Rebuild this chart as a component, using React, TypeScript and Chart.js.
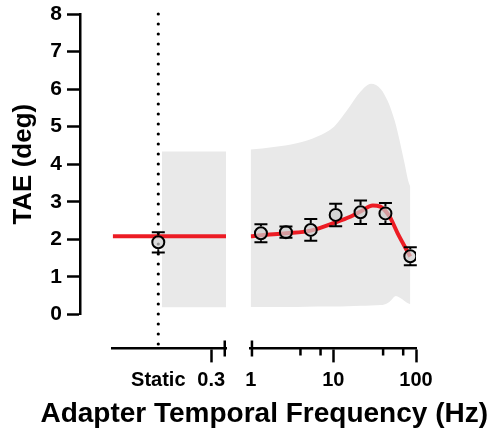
import { useEffect, useRef } from 'react';
import { Chart, registerables } from 'chart.js';

Chart.register(...registerables);

// ---------- data ----------
const Y_MIN = 0;
const Y_MAX = 8;
const Y_STEP = 1;

// left (static) segment
const STATIC_POS = 0.07; // position of the "Static" condition on the left segment
const XL_MIN = 0.02;
const XL_MAX = 0.45;
const XL_TICKS = [STATIC_POS, 0.3];
const STATIC_MEAN = 1.92;
const STATIC_ERR = 0.27;
const STATIC_FIT_X = [0.02, 0.45];
const STATIC_FIT_Y = [2.08, 2.08];
const STATIC_BAND_X = [0.0775, 0.45];
const STATIC_BAND_UPPER = [4.34, 4.34];
const STATIC_BAND_LOWER = [0.19, 0.19];

// right (temporal frequency) segment
const XR_MIN = 1;
const XR_MAX = 100;
const XR_TICKS = [1, 10, 100];
const XR_MINOR_TICKS = [4, 7, 40, 70];
const TF_FREQS = [1.33, 2.67, 5.33, 10.67, 21.33, 42.67, 85.33];
const TAE_MEAN = [2.16, 2.19, 2.25, 2.65, 2.72, 2.69, 1.55];
const TAE_ERR = [0.24, 0.15, 0.29, 0.3, 0.31, 0.28, 0.24];

const FIT_FREQS = [1, 1.33, 2.67, 5.33, 10.67, 16, 21.33, 30, 37, 48, 60, 85.33];
const FIT_VALUES = [2.08, 2.11, 2.16, 2.23, 2.45, 2.6, 2.74, 2.9, 2.87, 2.6, 2.16, 1.54];

const BAND_FREQS = [1, 1.9, 3.6, 6.4, 10.2, 14.8, 21.5, 28.5, 37.8, 45, 50, 57, 63, 72.6, 80, 85.33];
const BAND_UPPER = [4.39, 4.46, 4.56, 4.74, 5.0, 5.45, 5.94, 6.14, 5.99, 5.7, 5.45, 5.05, 4.65, 4.03, 3.58, 3.4];
const BAND_LOWER = [0.2, 0.2, 0.2, 0.21, 0.21, 0.22, 0.23, 0.24, 0.25, 0.3, 0.38, 0.49, 0.45, 0.36, 0.3, 0.27];

// ---------- layout / style ----------
const FONT = 'Liberation Sans, Arial, Helvetica, sans-serif';
const XL_PIXELS = [112.7, 226];
const XR_PIXELS = [250.7, 416];
const X_AXIS_GAP = 34;
const X_AXIS_BAND = 83;
const AXIS_W = 2.5;
const RED = 'rgb(236,28,36)';
const BAND = 'rgb(233,233,233)';
const POINT_R = 6;
const POINT_BW = 2;
const CAP_HALF = 6.5;

const xy = (xs: number[], ys: number[]) => xs.map((x, i) => ({ x, y: ys[i] }));

const brokenAxisPlugin = {
  id: 'brokenAxis',
  afterLayout(chart: any) {
    const { xl, xr } = chart.scales;
    const top = chart.chartArea.bottom + X_AXIS_GAP;
    const bottom = xr.bottom;
    const pairs: [any, number[]][] = [
      [xl, XL_PIXELS],
      [xr, XR_PIXELS],
    ];
    pairs.forEach(([s, px]) => {
      s.left = px[0];
      s.right = px[1];
      s.width = px[1] - px[0];
      s.top = top;
      s.bottom = bottom;
      s.height = bottom - top;
      s.configure();
    });
  },
  beforeDatasetsDraw(chart: any) {
    const { xl, y } = chart.scales;
    const ctx = chart.ctx;
    const x = xl.getPixelForValue(STATIC_POS);
    ctx.save();
    ctx.strokeStyle = '#000';
    ctx.lineWidth = 3.2;
    ctx.lineCap = 'round';
    ctx.setLineDash([0, 10]);
    ctx.beginPath();
    ctx.moveTo(x, y.getPixelForValue(Y_MAX));
    ctx.lineTo(x, xl.top);
    ctx.stroke();
    ctx.restore();
  },
  afterDatasetsDraw(chart: any) {
    const { xl, xr, y } = chart.scales;
    const ctx = chart.ctx;
    const rOuter = POINT_R + POINT_BW / 2;
    const drawErr = (px: number, mean: number, err: number) => {
      const cy = y.getPixelForValue(mean);
      const yt = y.getPixelForValue(mean + err);
      const yb = y.getPixelForValue(mean - err);
      ctx.beginPath();
      if (cy - yt > rOuter) {
        ctx.moveTo(px, cy - rOuter);
        ctx.lineTo(px, yt);
      }
      if (yb - cy > rOuter) {
        ctx.moveTo(px, cy + rOuter);
        ctx.lineTo(px, yb);
      }
      ctx.moveTo(px - CAP_HALF, yt);
      ctx.lineTo(px + CAP_HALF, yt);
      ctx.moveTo(px - CAP_HALF, yb);
      ctx.lineTo(px + CAP_HALF, yb);
      ctx.stroke();
    };
    ctx.save();
    ctx.strokeStyle = '#000';
    ctx.lineWidth = 2;
    drawErr(xl.getPixelForValue(STATIC_POS), STATIC_MEAN, STATIC_ERR);
    TF_FREQS.forEach((f, i) => drawErr(xr.getPixelForValue(f), TAE_MEAN[i], TAE_ERR[i]));
    ctx.restore();
  },
  afterDraw(chart: any) {
    const { xl, xr } = chart.scales;
    const ctx = chart.ctx;
    ctx.save();
    ctx.strokeStyle = '#000';
    ctx.lineWidth = AXIS_W;
    ctx.lineCap = 'butt';
    ctx.beginPath();
    // break caps
    ctx.moveTo(xl.right - AXIS_W / 2, xl.top - 8);
    ctx.lineTo(xl.right - AXIS_W / 2, xl.top + 8);
    ctx.moveTo(xr.left + AXIS_W / 2, xr.top - 8);
    ctx.lineTo(xr.left + AXIS_W / 2, xr.top + 8);
    // minor ticks
    XR_MINOR_TICKS.forEach((v) => {
      const px = xr.getPixelForValue(v);
      ctx.moveTo(px, xr.top);
      ctx.lineTo(px, xr.top + 7);
    });
    ctx.stroke();
    ctx.restore();
  },
};

export default function App() {
  const ref = useRef<HTMLCanvasElement | null>(null);

  useEffect(() => {
    if (!ref.current) return;
    const tickFont = { family: FONT, size: 20, weight: 'bold' as const };
    const yTickFont = { family: FONT, size: 21, weight: 'bold' as const };
    const pointStyle = {
      showLine: false,
      pointRadius: POINT_R,
      pointBorderWidth: POINT_BW,
      pointBorderColor: '#000',
      pointBackgroundColor: 'rgba(205,205,205,0.72)',
      order: 0,
    };
    const lineStyle = {
      borderColor: RED,
      borderWidth: 4,
      pointRadius: 0,
      fill: false,
      cubicInterpolationMode: 'monotone' as const,
      order: 1,
    };
    const bandStyle = {
      borderWidth: 0,
      borderColor: 'rgba(0,0,0,0)',
      backgroundColor: BAND,
      pointRadius: 0,
      cubicInterpolationMode: 'monotone' as const,
      order: 2,
    };
    const chart = new Chart(ref.current, {
      type: 'line',
      data: {
        datasets: [
          { ...pointStyle, label: 'TAE', xAxisID: 'xr', data: xy(TF_FREQS, TAE_MEAN) },
          { ...pointStyle, label: 'Static', xAxisID: 'xl', data: [{ x: STATIC_POS, y: STATIC_MEAN }] },
          { ...lineStyle, label: 'Fit', xAxisID: 'xr', data: xy(FIT_FREQS, FIT_VALUES) },
          { ...lineStyle, label: 'Static fit', xAxisID: 'xl', data: xy(STATIC_FIT_X, STATIC_FIT_Y) },
          { ...bandStyle, label: 'Band upper', xAxisID: 'xr', fill: '+1', data: xy(BAND_FREQS, BAND_UPPER) },
          { ...bandStyle, label: 'Band lower', xAxisID: 'xr', fill: false, data: xy(BAND_FREQS, BAND_LOWER) },
          { ...bandStyle, label: 'Static band upper', xAxisID: 'xl', fill: '+1', data: xy(STATIC_BAND_X, STATIC_BAND_UPPER) },
          { ...bandStyle, label: 'Static band lower', xAxisID: 'xl', fill: false, data: xy(STATIC_BAND_X, STATIC_BAND_LOWER) },
        ],
      },
      options: {
        responsive: false,
        animation: false,
        layout: { padding: { top: 14, right: 0, bottom: 0, left: 0 } },
        plugins: {
          legend: { display: false },
          tooltip: { enabled: false },
          title: {
            display: true,
            text: 'Adapter Temporal Frequency (Hz)',
            position: 'bottom',
            align: 'end',
            color: '#000',
            font: { family: FONT, size: 28, weight: 'bold' },
            padding: { top: 0, bottom: 4 },
          },
        },
        scales: {
          y: {
            type: 'linear',
            position: 'left',
            min: Y_MIN,
            max: Y_MAX,
            ticks: { stepSize: Y_STEP, color: '#000', font: yTickFont, padding: 5 },
            grid: { drawOnChartArea: false, tickLength: 13, tickWidth: AXIS_W, tickColor: '#000' },
            border: { color: '#000', width: AXIS_W },
            title: {
              display: true,
              text: 'TAE (deg)',
              color: '#000',
              font: { family: FONT, size: 26, weight: 'bold' },
              padding: { top: 8, bottom: 0 },
            },
            afterFit: (s: any) => {
              s.width = 80;
              s.paddingTop = 0;
              s.paddingBottom = 0;
            },
          },
          xl: {
            type: 'logarithmic',
            position: 'bottom',
            min: XL_MIN,
            max: XL_MAX,
            afterBuildTicks: (s: any) => {
              s.ticks = XL_TICKS.map((v) => ({ value: v }));
            },
            ticks: {
              autoSkip: false,
              maxRotation: 0,
              color: '#000',
              font: tickFont,
              padding: 6,
              callback: (v: any) => (v === STATIC_POS ? 'Static' : String(v)),
            },
            grid: {
              drawOnChartArea: false,
              tickLength: 14,
              tickWidth: AXIS_W,
              tickColor: (c: any) => (c.tick && c.tick.value === STATIC_POS ? 'rgba(0,0,0,0)' : '#000'),
            },
            border: { color: '#000', width: AXIS_W },
            afterFit: (s: any) => {
              s.height = 0;
              s.paddingLeft = 0;
              s.paddingRight = 0;
            },
          },
          xr: {
            type: 'logarithmic',
            position: 'bottom',
            min: XR_MIN,
            max: XR_MAX,
            afterBuildTicks: (s: any) => {
              s.ticks = XR_TICKS.map((v) => ({ value: v }));
            },
            ticks: {
              autoSkip: false,
              maxRotation: 0,
              color: '#000',
              font: tickFont,
              padding: 6,
              callback: (v: any) => String(v),
            },
            grid: {
              drawOnChartArea: false,
              tickLength: 14,
              tickWidth: AXIS_W,
              tickColor: (c: any) => (c.tick && c.tick.value === XR_MIN ? 'rgba(0,0,0,0)' : '#000'),
            },
            border: { color: '#000', width: AXIS_W },
            afterFit: (s: any) => {
              s.height = X_AXIS_BAND;
              s.paddingLeft = 0;
              s.paddingRight = 0;
            },
          },
        },
      } as any,
      plugins: [brokenAxisPlugin],
    });
    return () => chart.destroy();
  }, []);

  return (
    <div style={{ position: 'absolute', left: 0, top: 0, width: 488, height: 435, background: '#fff' }}>
      <canvas ref={ref} width={488} height={435} style={{ display: 'block' }} />
    </div>
  );
}
